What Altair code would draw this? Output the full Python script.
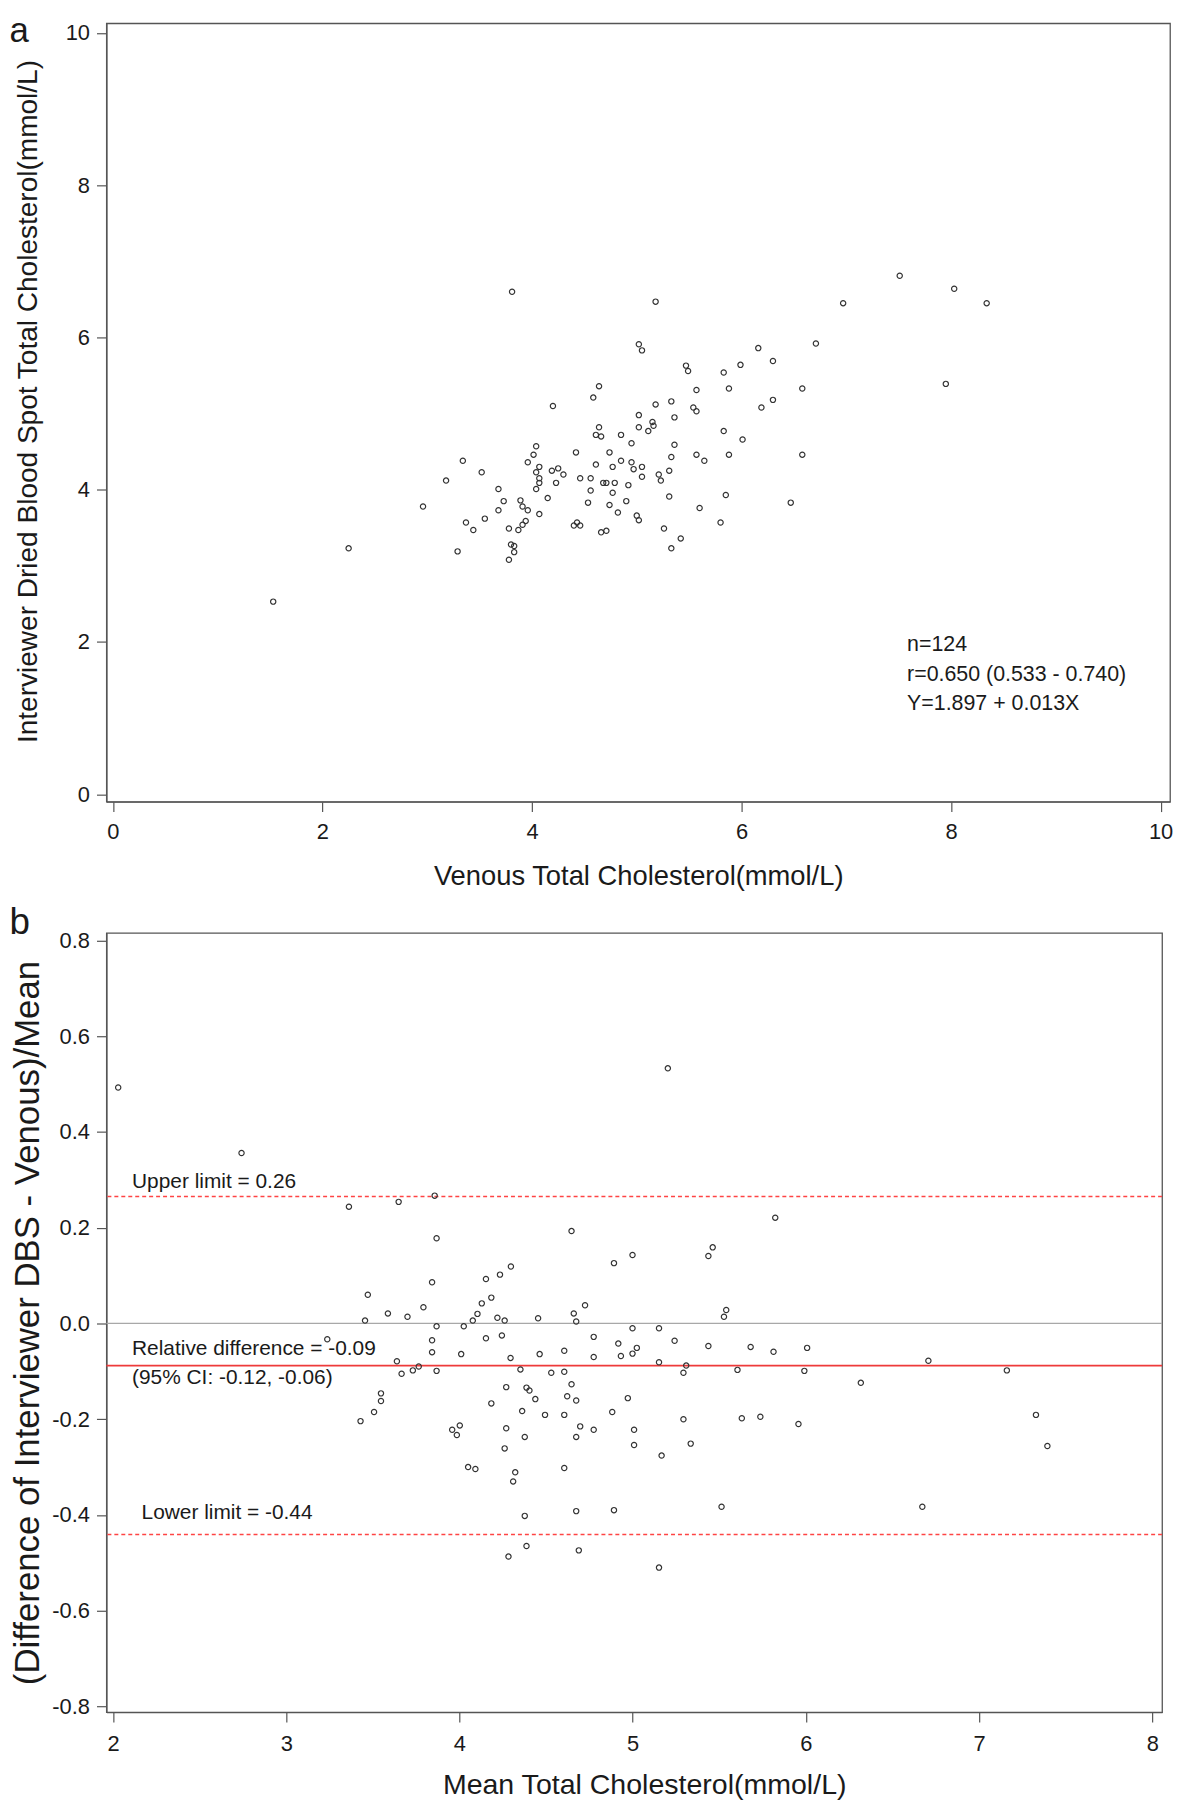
import altair as alt
import pandas as pd

FONT = "Liberation Sans"

# ---------------- Panel a data ----------------
venous = [3.81, 5.18, 6.97, 6.71, 5.02, 5.05, 6.16, 6.30, 5.99, 5.47,
          5.49, 5.83, 4.64, 5.88, 6.58, 5.57, 4.585, 4.20, 5.18, 5.33,
          6.30, 6.19, 5.54, 5.57, 5.02, 5.36, 5.15, 5.16, 5.02, 5.11,
          4.64, 4.61, 4.66, 4.85, 5.83, 4.95, 5.36, 6.01, 4.04, 4.015,
          3.96, 4.07, 4.04, 4.07, 4.07, 4.04, 3.34, 3.52, 3.18, 2.96,
          3.68, 3.73, 3.68, 3.37, 3.44, 3.55, 3.29, 3.78, 3.87, 3.91,
          3.94, 3.89, 3.91, 3.96, 3.80, 3.83, 3.83, 3.78, 4.07, 4.15,
          4.19, 4.25, 4.23, 4.30, 4.42, 4.46, 4.56, 4.61, 4.74, 4.85,
          4.77, 4.95, 4.97, 5.05, 5.05, 4.68, 4.71, 4.79, 4.92, 4.56,
          4.77, 4.535, 4.74, 4.90, 4.82, 5.00, 5.02, 4.40, 4.43, 4.46,
          4.66, 4.71, 5.21, 5.23, 5.31, 5.33, 5.31, 5.26, 5.33, 5.42,
          5.57, 5.645, 5.60, 5.88, 5.85, 5.80, 6.58, 6.47, 1.53, 2.25,
          7.51, 8.03, 8.34, 7.95]
dbs = [6.60, 6.47, 6.45, 5.92, 5.91, 5.83, 5.86, 5.69, 5.64, 5.63,
       5.56, 5.54, 5.36, 5.33, 5.33, 5.31, 5.21, 5.10, 5.12, 5.16,
       5.18, 5.08, 5.08, 5.03, 4.98, 4.95, 4.89, 4.84, 4.82, 4.77,
       4.82, 4.72, 4.70, 4.72, 4.77, 4.61, 4.59, 4.66, 4.57, 4.46,
       4.36, 4.30, 4.23, 4.15, 4.09, 4.01, 4.38, 4.23, 4.12, 3.78,
       4.01, 3.85, 3.73, 3.57, 3.47, 3.62, 3.19, 3.49, 3.47, 3.54,
       3.59, 3.86, 3.78, 3.73, 3.28, 3.26, 3.18, 3.08, 3.68, 3.89,
       4.25, 4.28, 4.09, 4.20, 4.49, 4.15, 4.15, 4.33, 4.49, 4.38,
       4.30, 4.36, 4.27, 4.30, 4.17, 4.09, 4.09, 4.09, 4.06, 3.99,
       3.96, 3.83, 3.80, 3.85, 3.70, 3.66, 3.60, 3.53, 3.57, 3.53,
       3.44, 3.46, 4.20, 4.12, 4.25, 4.43, 3.91, 3.49, 3.23, 3.36,
       4.46, 4.38, 3.76, 4.46, 3.93, 3.57, 4.46, 3.83, 2.53, 3.23,
       6.81, 6.64, 6.45, 5.39]
a_ticks_x = [0, 2, 4, 6, 8, 10]
a_ticks_y = [0, 2, 4, 6, 8, 10]
a_notes = ["n=124", "r=0.650 (0.533 - 0.740)", "Y=1.897 + 0.013X"]
a_notes_x = [7.58, 7.58, 7.58]
a_notes_y = [1.96, 1.57, 1.19]

# ---------------- Panel b data ----------------
mean_tc = [3.362, 3.649, 3.857, 3.868, 4.647, 5.823, 4.892, 4.999, 5.437, 5.462,
           3.842, 3.471, 4.153, 4.234, 4.297, 4.184, 4.129, 4.104, 4.077, 3.792,
           3.587, 3.700, 3.455, 4.219, 4.261, 3.868, 4.025, 4.454, 4.660, 4.674,
           4.725, 4.999, 5.152, 5.527, 5.540, 3.237, 3.842, 4.153, 4.245, 4.775,
           5.242, 4.917, 5.437, 5.681, 6.007, 5.813, 5.024, 4.999, 4.932, 4.775,
           4.605, 4.463, 4.295, 4.010, 3.842, 3.639, 3.666, 3.731, 3.765, 3.868,
           4.352, 4.530, 4.605, 5.152, 5.309, 5.293, 5.605, 5.991, 4.270, 4.387,
           4.404, 4.438, 4.647, 4.622, 4.674, 3.547, 3.547, 3.507, 3.429, 4.184,
           4.362, 4.494, 4.605, 4.882, 4.972, 5.293, 5.630, 5.737, 5.957, 3.958,
           3.985, 4.002, 4.270, 4.377, 4.697, 4.674, 4.775, 5.008, 5.008, 5.335,
           4.261, 5.167, 4.050, 4.092, 4.605, 4.322, 4.310, 4.377, 4.674, 4.892,
           5.513, 4.387, 4.283, 4.689, 5.152,
           2.03, 2.742, 5.203, 6.317, 6.707, 6.672, 7.160, 7.328, 7.394]
rel_diff = [0.244, 0.254, 0.267, 0.178, 0.193, 0.221, 0.126, 0.143, 0.141, 0.159,
            0.086, 0.060, 0.093, 0.102, 0.119, 0.054, 0.042, 0.020, 0.006, 0.034,
            0.021, 0.014, 0.006, 0.012, 0.006, -0.006, -0.006, 0.011, 0.021, 0.004,
            0.038, -0.010, -0.010, 0.014, 0.028, -0.033, -0.035, -0.031, -0.025, -0.028,
            -0.036, -0.042, -0.047, -0.049, -0.051, -0.059, -0.051, -0.063, -0.068, -0.070,
            -0.057, -0.064, -0.072, -0.064, -0.060, -0.079, -0.105, -0.098, -0.090, -0.099,
            -0.096, -0.103, -0.101, -0.081, -0.088, -0.103, -0.097, -0.099, -0.133, -0.134,
            -0.140, -0.158, -0.127, -0.152, -0.161, -0.146, -0.162, -0.185, -0.204, -0.167,
            -0.183, -0.191, -0.191, -0.185, -0.156, -0.200, -0.198, -0.195, -0.210, -0.222,
            -0.233, -0.213, -0.219, -0.237, -0.215, -0.237, -0.222, -0.222, -0.254, -0.251,
            -0.261, -0.276, -0.300, -0.304, -0.302, -0.311, -0.330, -0.402, -0.392, -0.390,
            -0.383, -0.465, -0.487, -0.474, -0.510,
            0.493, 0.356, 0.533, -0.124, -0.078, -0.383, -0.098, -0.191, -0.256]
b_ticks_x = [2, 3, 4, 5, 6, 7, 8]
b_ticks_y = [-0.8, -0.6, -0.4, -0.2, 0.0, 0.2, 0.4, 0.6, 0.8]
zero_line = [0.0]
mean_line = [-0.088]
limit_lines = [0.265, -0.441]
b_notes = ["Upper limit = 0.26", "Relative difference = -0.09",
           "(95% CI: -0.12, -0.06)", "Lower limit = -0.44"]
b_notes_x = [2.11, 2.11, 2.11, 2.165]
b_notes_y = [0.296, -0.054, -0.115, -0.396]

INK = "#1a1a1a"
AX = "#555555"

# ---------------- Panel a ----------------
xa_scale = alt.Scale(domain=[-0.062, 10.09], nice=False, zero=False)
ya_scale = alt.Scale(domain=[-0.097, 10.126], nice=False, zero=False)
xa = alt.X("x:Q", scale=xa_scale,
           axis=alt.Axis(values=a_ticks_x, title="Venous Total Cholesterol(mmol/L)",
                         labelPadding=10, titlePadding=20, titleFontSize=27.5))
ya = alt.Y("y:Q", scale=ya_scale,
           axis=alt.Axis(values=a_ticks_y,
                         title="Interviewer Dried Blood Spot Total Cholesterol(mmol/L)",
                         labelPadding=7, titlePadding=23, titleFontSize=28.2, titleY=380))

df_a = pd.DataFrame({"x": venous, "y": dbs})
pts_a = alt.Chart(df_a).mark_point(shape="circle", filled=False, size=28,
                                   stroke="#333333", strokeWidth=1.2, opacity=1).encode(x=xa, y=ya)
notes_a = alt.Chart(pd.DataFrame({"x": a_notes_x, "y": a_notes_y, "t": a_notes})).mark_text(
    align="left", baseline="middle", fontSize=21.5, font=FONT, color=INK
).encode(x=xa, y=ya, text="t:N")
lab_a = alt.Chart(pd.DataFrame({"t": ["a"]})).mark_text(
    align="left", baseline="alphabetic", fontSize=35, font=FONT, color=INK
).encode(x=alt.value(-97.5), y=alt.value(19), text="t:N")

panel_a = alt.layer(pts_a, notes_a, lab_a).properties(width=1070, height=783)

# ---------------- Panel b ----------------
xb_scale = alt.Scale(domain=[1.962, 8.056], nice=False, zero=False)
yb_scale = alt.Scale(domain=[-0.812, 0.816], nice=False, zero=False)
xb = alt.X("x:Q", scale=xb_scale,
           axis=alt.Axis(values=b_ticks_x, title="Mean Total Cholesterol(mmol/L)",
                         labelPadding=12, titlePadding=16, titleFontSize=28.7, titleX=541))
yb = alt.Y("y:Q", scale=yb_scale,
           axis=alt.Axis(values=b_ticks_y,
                         labelExpr="(datum.value < -0.0001 ? '-' : '') + format(abs(datum.value), '.1f')",
                         title="(Difference of Interviewer DBS - Venous)/Mean",
                         labelPadding=7, titlePadding=6, titleFontSize=35))

zero_r = alt.Chart(pd.DataFrame({"y": zero_line})).mark_rule(
    color="#a8a8a8", strokeWidth=1.3).encode(y=yb)
mean_r = alt.Chart(pd.DataFrame({"y": mean_line})).mark_rule(
    color="#ee3a3a", strokeWidth=1.7).encode(y=yb)
lim_r = alt.Chart(pd.DataFrame({"y": limit_lines})).mark_rule(
    color="#ff4444", strokeWidth=1.5, strokeDash=[4, 3]).encode(y=yb)
df_b = pd.DataFrame({"x": mean_tc, "y": rel_diff})
pts_b = alt.Chart(df_b).mark_point(shape="circle", filled=False, size=28,
                                   stroke="#333333", strokeWidth=1.2, opacity=1).encode(x=xb, y=yb)
notes_b = alt.Chart(pd.DataFrame({"x": b_notes_x, "y": b_notes_y, "t": b_notes})).mark_text(
    align="left", baseline="middle", fontSize=21, font=FONT, color=INK
).encode(x=xb, y=yb, text="t:N")
lab_b = alt.Chart(pd.DataFrame({"t": ["b"]})).mark_text(
    align="left", baseline="alphabetic", fontSize=37, font=FONT, color=INK
).encode(x=alt.value(-97.5), y=alt.value(1), text="t:N")

panel_b = alt.layer(zero_r, mean_r, lim_r, pts_b, notes_b, lab_b).properties(width=1062, height=784)

chart = alt.vconcat(panel_a, panel_b, spacing=12).properties(
    padding=0
).configure(font=FONT).configure_view(
    stroke=AX, strokeWidth=1.3
).configure_axis(
    grid=False, tickSize=10, tickColor=AX, tickWidth=1.2, domainColor=AX, domainWidth=1.3,
    labelFont=FONT, labelFontSize=22, labelColor=INK, labelFlush=False, labelOverlap=False,
    titleFont=FONT, titleFontWeight="normal", titleColor=INK
)

chart.save("out.html", embed_options={"renderer": "svg", "actions": False})
